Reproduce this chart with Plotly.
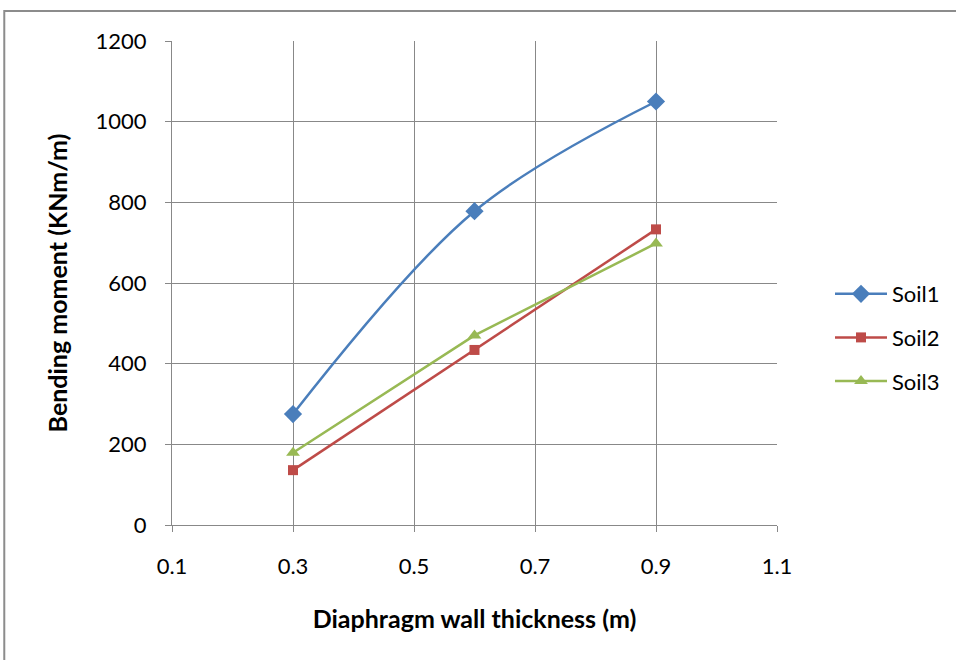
import plotly.graph_objects as go

thickness = [0.3, 0.6, 0.9]
soil1 = [275, 778, 1050]
soil2 = [136, 434, 733]
soil3 = [179, 470, 698]

names = ["Soil1", "Soil2", "Soil3"]
colors = ["#4A7EBB", "#BE4B48", "#98B954"]
symbols = ["diamond", "square", "triangle-up"]
msizes = [14, 10, 12]
shapes_line = ["spline", "linear", "linear"]

fig = go.Figure()
for name, ys, c, s, ms, sh in zip(names, [soil1, soil2, soil3], colors, symbols, msizes, shapes_line):
    fig.add_trace(go.Scatter(
        x=thickness, y=ys, name=name, mode="lines+markers",
        line=dict(color=c, width=2.5, shape=sh, smoothing=1.0),
        marker=dict(symbol=s, size=ms, color=c),
        legendgroup=name,
    ))

L, R, T, B = 172, 178, 41, 135
W, H = 956, 660
pw, ph = W - L - R, H - T - B

def px2paper_x(px):
    return (px - L) / pw

def px2paper_y(py):
    return (H - B - py) / ph

fig.add_shape(type="rect", xref="paper", yref="paper",
              x0=px2paper_x(4), x1=px2paper_x(990),
              y0=px2paper_y(700), y1=px2paper_y(11),
              line=dict(color="#8C8C8C", width=2), fillcolor="rgba(0,0,0,0)", layer="below")

fig.update_layout(
    width=W, height=H,
    margin=dict(l=L, r=R, t=T, b=B),
    paper_bgcolor="white", plot_bgcolor="white",
    font=dict(family="Lato, Calibri, sans-serif", size=22, color="#000000"),
    xaxis=dict(
        range=[0.1, 1.1], tickvals=[0.1, 0.3, 0.5, 0.7, 0.9, 1.1],
        ticktext=["0.1", "0.3", "0.5", "0.7", "0.9", "1.1"],
        tickfont=dict(size=22),
        showgrid=True, gridcolor="#888888", gridwidth=1,
        showline=True, linecolor="#888888", linewidth=1,
        ticks="outside", ticklen=6, tickcolor="#888888",
        ticklabelstandoff=16,
        zeroline=False,
        title=dict(text="<b>Diaphragm wall thickness (m)</b>", font=dict(size=25), standoff=32),
    ),
    yaxis=dict(
        range=[0, 1200], tickvals=[0, 200, 400, 600, 800, 1000, 1200],
        tickfont=dict(size=22),
        showgrid=True, gridcolor="#888888", gridwidth=1,
        showline=True, linecolor="#888888", linewidth=1,
        ticks="outside", ticklen=6, tickcolor="#888888",
        ticklabelstandoff=14,
        zeroline=False,
        title=dict(text="<b>Bending moment (KNm/m)</b>", font=dict(size=25), standoff=20),
    ),
    legend=dict(x=px2paper_x(830), y=px2paper_y(273), xanchor="left", yanchor="top",
                font=dict(size=22), tracegroupgap=12, itemwidth=52, bgcolor="rgba(0,0,0,0)"),
    showlegend=True,
)

fig.write_html("out.html")
